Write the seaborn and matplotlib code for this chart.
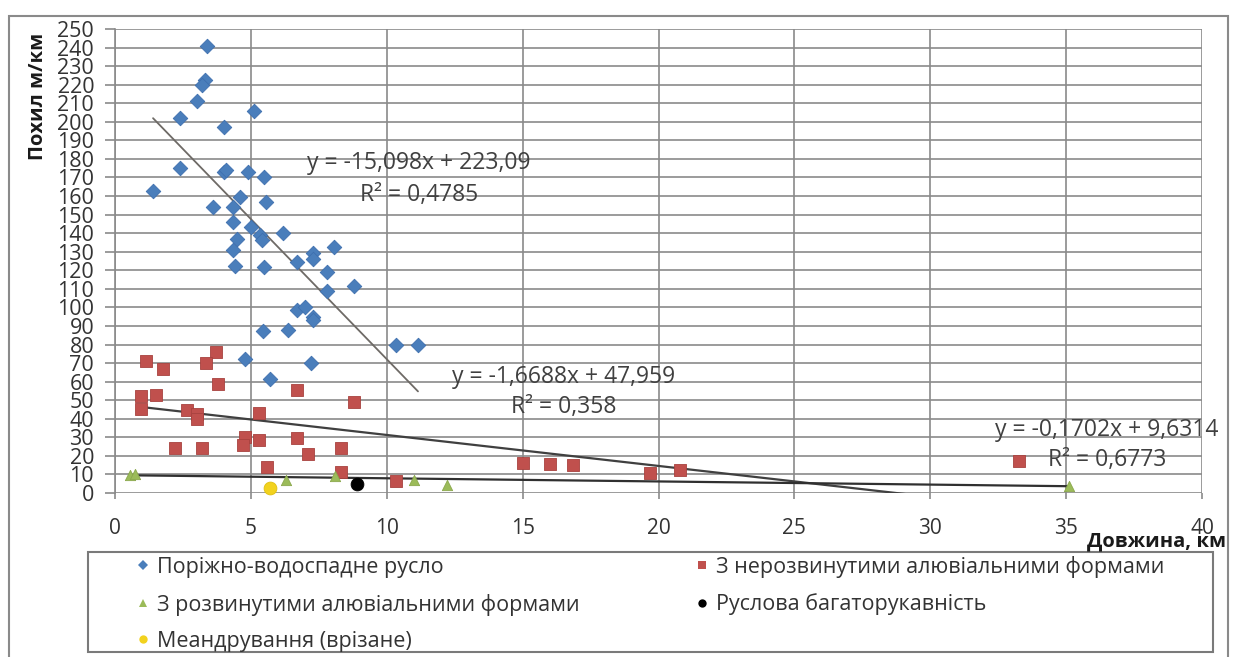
import numpy as np
import pandas as pd
import matplotlib
matplotlib.use("Agg")
import matplotlib.pyplot as plt
import seaborn as sns
from matplotlib.patches import Rectangle
from matplotlib.lines import Line2D

# ---------------- data ----------------
blue_name = "Поріжно-водоспадне русло"
blue_x = [3.4, 3.3, 3.2, 3.0, 2.4, 5.1, 4.0, 2.4, 1.4, 4.0, 4.1, 4.9, 5.5, 4.6,
          5.55, 3.6, 4.35, 4.35, 5.0, 5.35, 5.4, 6.2, 4.5, 4.35, 4.4, 5.5, 6.7,
          7.3, 7.3, 8.05, 7.8, 7.8, 8.8, 6.7, 7.0, 7.3, 7.3, 5.45, 6.35, 10.35,
          11.15, 4.8, 7.2, 5.7]
blue_y = [241, 222.5, 220, 211, 202, 206, 197, 175, 162.5, 173, 174, 173, 170.5, 159.5,
          157, 154, 154, 146, 143.5, 139, 136.5, 140, 137, 131, 122.5, 122, 124.5,
          129.5, 126, 132.5, 119, 109, 111.5, 98.5, 100, 95, 93, 87.5, 88, 80,
          80, 72, 70, 61.5]

red_name = "З нерозвинутими алювіальними формами"
red_x = [1.15, 1.75, 3.7, 3.35, 3.8, 0.95, 1.5, 0.95, 2.65, 3.0, 3.0, 5.3, 6.7,
         8.8, 2.2, 3.2, 4.8, 4.7, 5.3, 6.7, 7.1, 8.3, 5.6, 8.3, 10.35, 15.0,
         16.0, 16.85, 19.7, 20.8, 33.25]
red_y = [71, 67, 76, 70, 58.5, 52.5, 53, 45, 44.5, 42.5, 40, 43, 55.5,
         49, 24.5, 24, 30, 26, 28.5, 29.5, 21, 24, 14, 11.5, 6.5, 16,
         15.5, 15, 11, 12.5, 17]

green_name = "З розвинутими алювіальними формами"
green_x = [0.55, 0.75, 6.3, 8.1, 11.0, 12.2, 35.1]
green_y = [9.5, 10.5, 7.0, 9.0, 7.0, 4.5, 3.8]

black_name = "Руслова багаторукавність"
black_x = [8.9]
black_y = [4.7]

yellow_name = "Меандрування (врізане)"
yellow_x = [5.7]
yellow_y = [2.5]

# linear trend lines (coefficients as printed on the chart)
blue_trend = [-15.098, 223.09]
red_trend = [-1.6688, 47.959]
green_trend = [-0.1702, 9.6314]
blue_eq = ["y = -15,098x + 223,09", "R² = 0,4785"]
red_eq = ["y = -1,6688x + 47,959", "R² = 0,358"]
green_eq = ["y = -0,1702x + 9,6314", "R² = 0,6773"]

x_ticks = list(range(0, 41, 5))
y_ticks = list(range(0, 251, 10))
x_label = "Довжина, км"
y_label = "Похил м/км"

# ---------------- style ----------------
sns.set_theme(style="white")
plt.rcParams["font.family"] = ["Open Sans", "DejaVu Sans"]

W, H = 1234, 657
fig = plt.figure(figsize=(W / 100, H / 100), dpi=100)
fig.patch.set_facecolor("white")

def fx(px):
    return px / W

def fy(py):
    return 1 - py / H

ax = fig.add_axes([fx(115), fy(493), fx(1202) - fx(115), fy(29) - fy(493)])
ax.set_xlim(0, 40)
ax.set_ylim(0, 250)

grid_c = "#8a8a8a"
ax.set_xticks(x_ticks)
ax.set_yticks(y_ticks)
ax.grid(True, color=grid_c, lw=1.2)
ax.set_axisbelow(True)
for s in ax.spines.values():
    s.set_visible(False)
ax.spines["left"].set_visible(True)
ax.spines["left"].set_color(grid_c)
ax.spines["left"].set_linewidth(1.2)
ax.tick_params(axis="y", which="major", left=True, length=7, width=1.2, color=grid_c,
               pad=8, labelsize=15.5, labelcolor="#333333")
ax.tick_params(axis="x", which="major", bottom=True, length=4, width=1.2, color=grid_c,
               pad=14, labelsize=15, labelcolor="#333333")

# ---------------- scatter ----------------
series = [
    (blue_x, blue_y, "D", 55, "#4A7EBB", "#3E6FAE", blue_name),
    (red_x, red_y, "s", 85, "#C0504D", "#A8423F", red_name),
    (green_x, green_y, "^", 55, "#9BBB59", "#8AA84C", green_name),
    (black_x, black_y, "o", 85, "#000000", "#000000", black_name),
    (yellow_x, yellow_y, "o", 85, "#F2D21E", "#E0C010", yellow_name),
]
for xs, ys, m, size, c, ec, name in series:
    df = pd.DataFrame({"x": xs, "y": ys})
    sns.scatterplot(data=df, x="x", y="y", marker=m, s=size, color=c,
                    edgecolor=ec, linewidth=0.6, ax=ax, zorder=4, clip_on=False,
                    legend=False)

# ---------------- trend lines ----------------
def trend(xs, coef, color, lw):
    xx = np.array([min(xs), max(xs)])
    yy = coef[0] * xx + coef[1]
    ax.plot(xx, yy, color=color, lw=lw, zorder=3)

trend(blue_x, blue_trend, "#6e6a66", 1.3)
trend(red_x, red_trend, "#404040", 1.6)
trend(green_x, green_trend, "#303030", 1.6)

eq_kw = dict(fontsize=16.5, color="#404040", ha="center", va="center", zorder=5)
ax.text(11.18, 178, blue_eq[0], **eq_kw)
ax.text(11.18, 160.6, blue_eq[1], **eq_kw)
ax.text(16.5, 62.7, red_eq[0], **eq_kw)
ax.text(16.5, 46.3, red_eq[1], **eq_kw)
ax.text(36.5, 33.9, green_eq[0], **eq_kw)
ax.text(36.5, 17.8, green_eq[1], **eq_kw)

ax.set_xlabel("")
ax.set_ylabel("")

# axis titles
fig.text(fx(38), fy(96), y_label, rotation=90, fontsize=14.5, fontweight="bold",
         ha="center", va="center", color="#1a1a1a")
fig.text(fx(1226), fy(541), x_label, fontsize=14.5, fontweight="bold",
         ha="right", va="center", color="#1a1a1a")

# outer chart border
fig.patches.append(Rectangle((fx(9), fy(670)), fx(1228) - fx(9), fy(16) - fy(670),
                             transform=fig.transFigure, fill=False,
                             edgecolor="#8a8a8a", lw=1.5))
# legend frame
fig.patches.append(Rectangle((fx(88), fy(652)), fx(1213) - fx(88), fy(552) - fy(652),
                             transform=fig.transFigure, fill=False,
                             edgecolor="#7a7a7a", lw=1.5))

# ---------------- legend ----------------
def handle(m, c, ms):
    return Line2D([], [], linestyle="none", marker=m, color=c, markersize=ms,
                  markeredgewidth=0)

handles = [handle("D", "#4A7EBB", 5), handle("^", "#9BBB59", 6),
           handle("o", "#F2D21E", 6), handle("s", "#C0504D", 6),
           handle("o", "#000000", 6)]
labels = [blue_name, green_name, yellow_name, red_name, black_name]
leg = fig.legend(handles, labels, loc="upper left", ncol=2, mode="expand",
                 bbox_to_anchor=(fx(132), fy(648), fx(1164) - fx(132), fy(556) - fy(648)),
                 frameon=False, fontsize=15.5, labelspacing=0.72, handletextpad=0.15,
                 borderpad=0, handlelength=1.0, borderaxespad=0)
for t in leg.get_texts():
    t.set_color("#333333")

fig.savefig("out.png", dpi=100, facecolor="white")
